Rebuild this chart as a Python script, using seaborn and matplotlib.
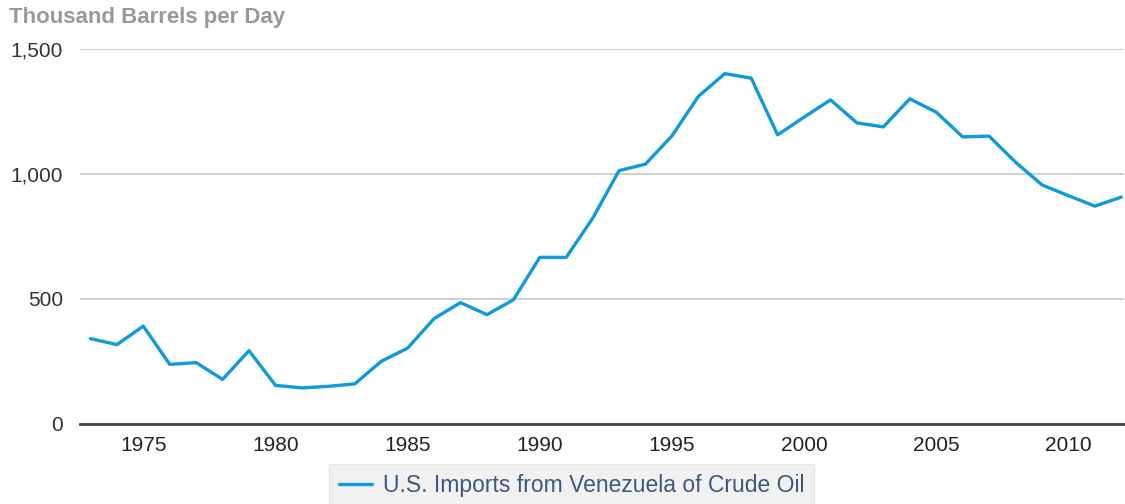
import matplotlib
matplotlib.use('Agg')
import matplotlib.pyplot as plt
import seaborn as sns
import pandas as pd

# Datos (miles de barriles por dia)
years = list(range(1973, 2013))
imports = [341, 317, 391, 238, 245, 178, 293, 154, 144, 150,
           160, 250, 303, 421, 485, 437, 496, 666, 666, 822,
           1013, 1039, 1152, 1310, 1401, 1383, 1156, 1227, 1296, 1204,
           1188, 1300, 1247, 1148, 1151, 1047, 956, 913, 871, 907]
series_name = 'U.S. Imports from Venezuela of Crude Oil'
y_ticks = [0, 500, 1000, 1500]
x_ticks = [1975, 1980, 1985, 1990, 1995, 2000, 2005, 2010]

df = pd.DataFrame({'year': years, 'value': imports})

sns.set_style('white')
plt.rcParams['font.family'] = ['Liberation Sans', 'DejaVu Sans']

fig = plt.figure(figsize=(11.25, 5.04), dpi=100)
ax = fig.add_axes([0.071, 0.159, 0.928, 0.744])

sns.lineplot(data=df, x='year', y='value', ax=ax, color='#0f9ad8',
             linewidth=2.4, label=series_name)

ax.set_xlim(1972.6, 2012.1)
ax.set_ylim(0, 1500)
ax.set_yticks(y_ticks)
ax.set_yticklabels([f'{v:,}' for v in y_ticks])
ax.set_xticks(x_ticks)

ax.grid(axis='y', color='#cccccc', linewidth=1.3)
ax.set_axisbelow(True)
for s in ['top', 'right', 'left']:
    ax.spines[s].set_visible(False)
ax.spines['bottom'].set_color('#444444')
ax.spines['bottom'].set_linewidth(2)

ax.tick_params(axis='x', length=6, width=1.2, color='#444444',
               labelsize=15, labelcolor='#222222', pad=3)
ax.tick_params(axis='y', length=0, labelsize=15, labelcolor='#333333', pad=12)
ax.set_xlabel('')
ax.set_ylabel('')

fig.text(0.008, 0.966, 'Thousand Barrels per Day', fontsize=16,
         fontweight='bold', color='#999999', ha='left', va='center')

ax.get_legend().remove()
leg = fig.legend(*ax.get_legend_handles_labels(), loc='upper center',
                 bbox_to_anchor=(0.508, 0.079), frameon=True, fontsize=16.5,
                 handlelength=1.45, handletextpad=0.45, borderpad=0.45,
                 borderaxespad=0, fancybox=False)
leg.get_frame().set_facecolor('#eeeeee')
leg.get_frame().set_edgecolor('#e0e0e0')
for t in leg.get_texts():
    t.set_color('#3d5878')

fig.savefig('out.png', dpi=100)
plt.close(fig)
